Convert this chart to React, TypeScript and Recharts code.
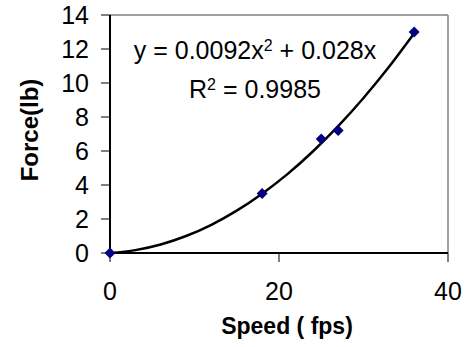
import { ComposedChart, Line, Scatter, XAxis, YAxis, ReferenceLine } from 'recharts';

const speeds = [0, 18, 25, 27, 36];
const forces = [0, 3.5, 6.7, 7.2, 13];

// trendline
const trendSpeeds = [0, 3, 6, 9, 12, 15, 18, 21, 24, 27, 30, 33, 36];
const trendForces = [0, 0.17, 0.5, 1.0, 1.66, 2.49, 3.49, 4.64, 5.97, 7.46, 9.12, 10.94, 12.93];

const xTicks = [0, 20, 40];
const yTicks = [0, 2, 4, 6, 8, 10, 12, 14];

const points = speeds.map((x, i) => ({ x, y: forces[i] }));
const trend = trendSpeeds.map((x, i) => ({ x, y: trendForces[i] }));

const FONT = '"Liberation Sans", Arial, sans-serif';

const Diamond = (props: any) => {
  const { cx, cy } = props;
  const r = 5.5;
  return (
    <polygon
      points={`${cx},${cy - r} ${cx + r},${cy} ${cx},${cy + r} ${cx - r},${cy}`}
      fill="#000080"
    />
  );
};

export default function App() {
  return (
    <div style={{ position: 'absolute', left: 0, top: 0, background: '#fff' }}>
      <ComposedChart
        width={467}
        height={347}
        margin={{ top: 15, right: 19, bottom: 0, left: 0 }}
        style={{ fontFamily: FONT }}
      >
        <XAxis
          type="number"
          dataKey="x"
          domain={[0, 40]}
          ticks={xTicks}
          height={94}
          axisLine={{ stroke: '#000', strokeWidth: 2 }}
          tickLine={{ stroke: '#000', strokeWidth: 1 }}
          tickSize={9}
          tickMargin={20}
          tick={{ fill: '#000', fontSize: 25, fontFamily: FONT }}
        />
        <YAxis
          type="number"
          dataKey="y"
          domain={[0, 14]}
          ticks={yTicks}
          width={110}
          axisLine={{ stroke: '#000', strokeWidth: 2 }}
          tickLine={{ stroke: '#000', strokeWidth: 1 }}
          tickSize={9}
          tickMargin={12}
          tick={{ fill: '#000', fontSize: 25, fontFamily: FONT }}
        />
        <ReferenceLine y={14} stroke="#808080" strokeWidth={1.5} />
        <ReferenceLine x={40} stroke="#808080" strokeWidth={1.5} />
        <Line
          data={trend}
          dataKey="y"
          type="monotone"
          stroke="#000"
          strokeWidth={2.5}
          dot={false}
          isAnimationActive={false}
        />
        <Scatter data={points} dataKey="y" shape={Diamond} isAnimationActive={false} />
        <text x={255} y={59} textAnchor="middle" fontSize={25} fontFamily={FONT} fill="#000">
          y = 0.0092x<tspan dy={-8} fontSize={16}>2</tspan><tspan dy={8}> + 0.028x</tspan>
        </text>
        <text x={255} y={98} textAnchor="middle" fontSize={25} fontFamily={FONT} fill="#000">
          R<tspan dy={-8} fontSize={16}>2</tspan><tspan dy={8}> = 0.9985</tspan>
        </text>
        <text x={287} y={334} textAnchor="middle" fontSize={23} fontWeight="bold" fontFamily={FONT} fill="#000">
          Speed ( fps)
        </text>
        <text
          x={0}
          y={0}
          transform="translate(38,130) rotate(-90)"
          textAnchor="middle"
          fontSize={24}
          fontWeight="bold"
          fontFamily={FONT}
          fill="#000"
        >
          Force(lb)
        </text>
      </ComposedChart>
    </div>
  );
}
